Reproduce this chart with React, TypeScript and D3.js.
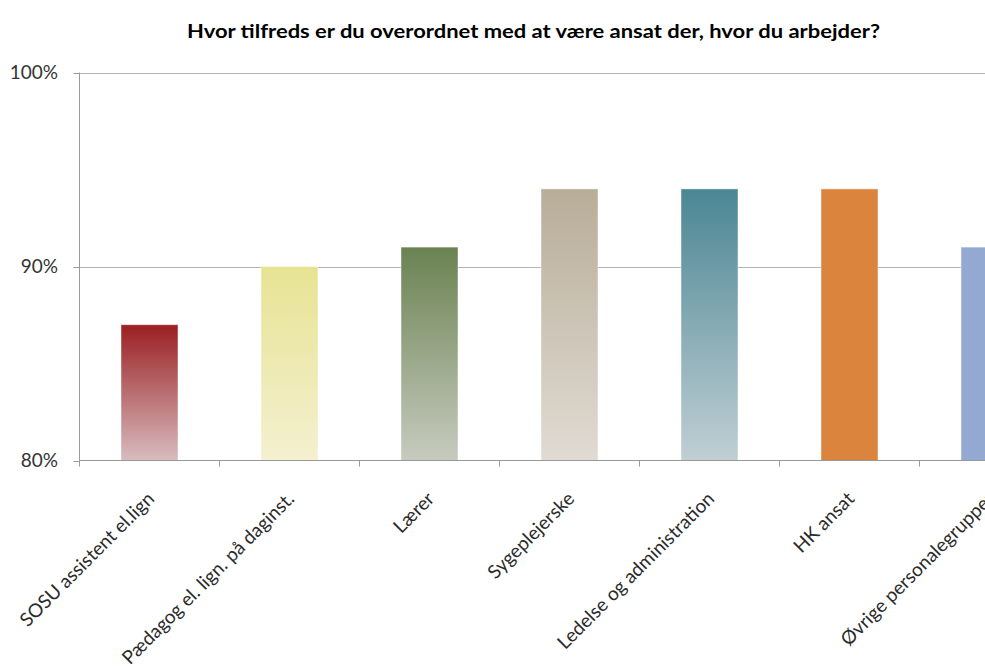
import React, { useEffect } from "react";
import * as d3 from "d3";

const title = "Hvor tilfreds er du overordnet med at være ansat der, hvor du arbejder?";
const categories = [
  "SOSU assistent el.lign",
  "Pædagog el. lign. på daginst.",
  "Lærer",
  "Sygeplejerske",
  "Ledelse og administration",
  "HK ansat",
  "Øvrige personalegrupper",
];
const values = [0.87, 0.9, 0.91, 0.94, 0.94, 0.94, 0.91];
const topColors = ["#9a1f22", "#e7e393", "#6a8251", "#b8ad98", "#4b8694", "#db843d", "#93a9d1"];
const bottomColors = ["#d8bcbf", "#f4f0d0", "#c7cbbf", "#e0dbd3", "#c0cfd4", "#db843d", "#93a9d1"];
const yTicks = [0.8, 0.9, 1.0];
const yTickLabels = ["80%", "90%", "100%"];

const W = 985;
const H = 667;
const left = 79.5;
const top = 72.5;
const bottom = 460.5;
const step = 140;

export default function App() {
  useEffect(() => {
    document.body.style.margin = "0";
  }, []);

  const x = d3
    .scaleBand<string>()
    .domain(categories)
    .range([left, left + step * categories.length])
    .paddingInner(0.593)
    .paddingOuter(0.2965);
  const y = d3.scaleLinear().domain([0.8, 1.0]).range([bottom, top]);
  const right = left + step * categories.length;
  const font = "Lato, Carlito, 'Open Sans', sans-serif";

  return (
    <svg width={W} height={H} style={{ display: "block", background: "#fff" }}>
      <defs>
        {categories.map((c, i) => (
          <linearGradient key={c} id={`g${i}`} x1="0" y1="0" x2="0" y2="1">
            <stop offset="0%" stopColor={topColors[i]} />
            <stop offset="100%" stopColor={bottomColors[i]} />
          </linearGradient>
        ))}
      </defs>
      <text
        x={533.5}
        y={38}
        textAnchor="middle"
        fontFamily={font}
        fontWeight="bold"
        fontSize={18.5}
        textLength={693}
        lengthAdjust="spacingAndGlyphs"
        fill="#000"
      >
        {title}
      </text>
      {/* gridlines */}
      {yTicks.slice(1).map((t) => (
        <line key={t} x1={left} x2={right} y1={Math.round(y(t)) + 0.5} y2={Math.round(y(t)) + 0.5} stroke="#b3b3b3" strokeWidth={1} />
      ))}
      {/* bars */}
      {categories.map((c, i) => {
        const bx = x(c)!;
        const by = y(values[i]);
        return (
          <rect
            key={c}
            x={bx}
            y={by}
            width={x.bandwidth()}
            height={bottom - by}
            fill={`url(#g${i})`}
            stroke="rgba(255,255,255,0.45)"
            strokeWidth={1}
          />
        );
      })}
      {/* y axis */}
      <line x1={left} x2={left} y1={top} y2={bottom} stroke="#999" strokeWidth={1} />
      {yTicks.map((t, i) => (
        <g key={t}>
          <line x1={left - 6} x2={left} y1={Math.round(y(t)) + 0.5} y2={Math.round(y(t)) + 0.5} stroke="#999" />
          <text
            x={58}
            y={y(t)}
            dy="0.35em"
            textAnchor="end"
            fontFamily={font}
            fontSize={19}
            fill="#333"
          >
            {yTickLabels[i]}
          </text>
        </g>
      ))}
      {/* x axis */}
      <line x1={left} x2={right} y1={bottom} y2={bottom} stroke="#999" strokeWidth={1} />
      {d3.range(categories.length + 1).map((k) => {
        const tx = Math.round(left + k * step) - 0.5;
        return <line key={k} x1={tx} x2={tx} y1={bottom} y2={bottom + 6} stroke="#999" />;
      })}
      {categories.map((c) => {
        const cx = x(c)! + x.bandwidth() / 2;
        const ax = cx + 6;
        const ay = 500;
        return (
          <text
            key={c}
            x={ax}
            y={ay}
            textAnchor="end"
            transform={`rotate(-45 ${ax} ${ay})`}
            fontFamily={font}
            fontSize={19}
            fill="#2b2b2b"
          >
            {c}
          </text>
        );
      })}
    </svg>
  );
}
